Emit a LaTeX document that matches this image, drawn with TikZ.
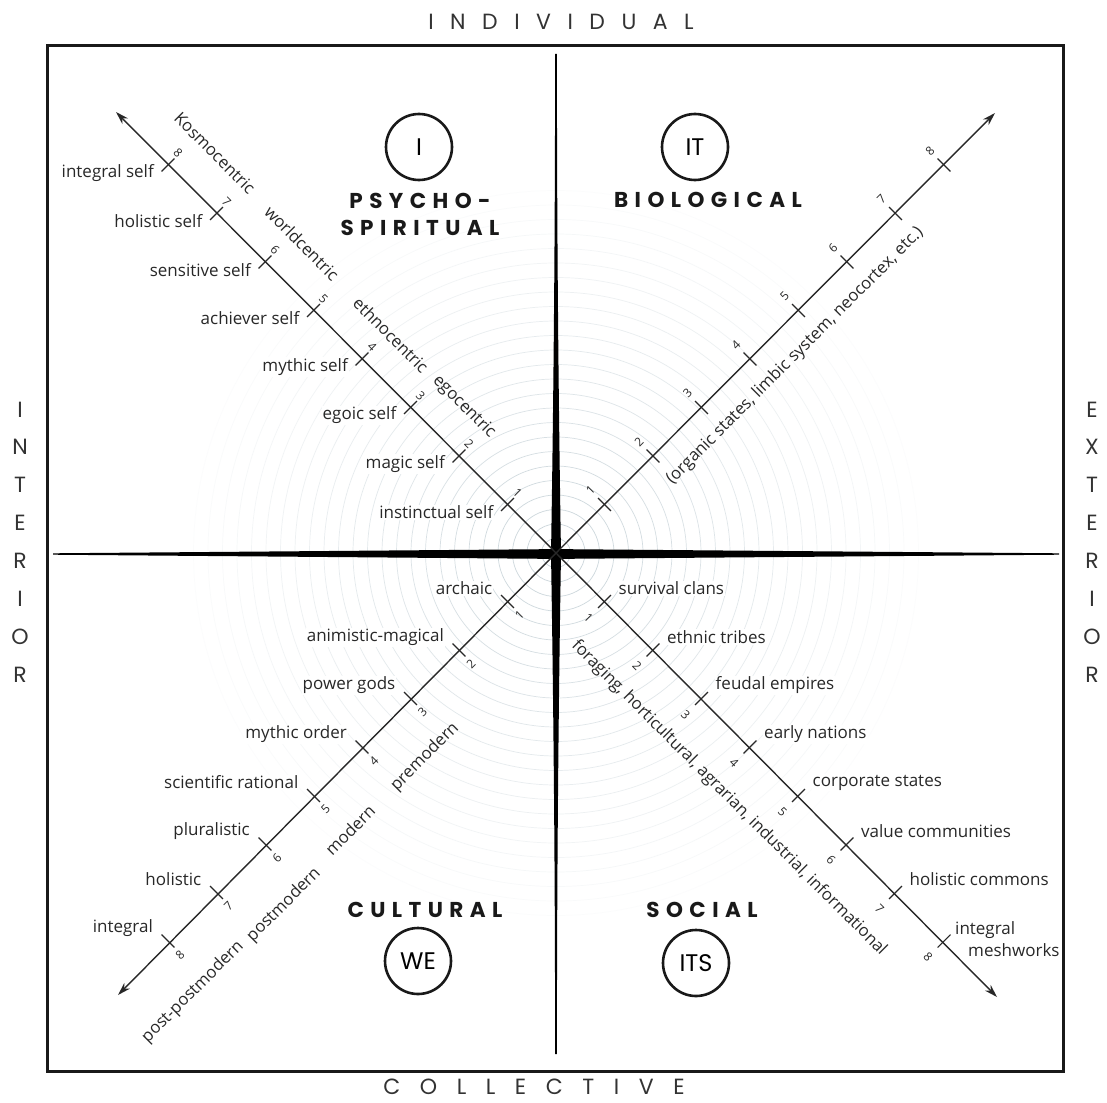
\documentclass[tikz,border=0pt]{standalone}
\usepackage{fontspec}
\setmainfont{Open Sans}
\newfontfamily\popfont{Poppins}
\newfontfamily\ttlfont[LetterSpace=30]{Poppins}
\newfontfamily\outfontA[LetterSpace=75]{Poppins}
\newfontfamily\outfontB[LetterSpace=89]{Poppins}
\usetikzlibrary{arrows.meta}
\definecolor{ringc}{RGB}{196,208,214}
\definecolor{ink}{RGB}{40,40,40}
\begin{document}
\begin{tikzpicture}[x=1pt,y=-1pt,
  lbl/.style={font=\fontsize{17}{20}\selectfont, text=ink, inner sep=1pt, fill=white},
  num/.style={font=\fontsize{12}{14}\selectfont, text=ink, inner sep=0pt},
  grp/.style={font=\fontsize{16.7}{19}\selectfont, text=ink, inner sep=0pt},
  circ/.style={circle, draw=black!90, line width=2.6pt, minimum size=66pt, inner sep=0pt, font=\popfont\fontsize{24}{28}\selectfont},
  ttl/.style={font=\ttlfont\bfseries\fontsize{21.5}{27}\selectfont, align=center, inner sep=0pt, text=black!90},
  vert/.style={font=\popfont\fontsize{22}{37.9}\selectfont, align=center, inner sep=0pt, text=black!80},
  axisln/.style={line width=1.4pt, draw=ink, -{Stealth[length=13pt,width=8pt]}},
  tickln/.style={line width=1.1pt, draw=ink},
]
\useasboundingbox[fill=white] (0,0) rectangle (1107,1102);

\coordinate (O) at (556,553);
\coordinate (ULe) at (116,112);
\coordinate (URe) at (995,113);
\coordinate (LLe) at (118,995);
\coordinate (LRe) at (997,997);

% faint concentric rings
\foreach \r [evaluate=\r as \op using {0.95-\r*0.036}] in {1,...,25}
  \draw[ringc, line width=0.7pt, opacity=\op] (O) circle ({\r*14.5});

% tapered cross
\fill[black] plot[domain=-503:503,samples=81] ({556+(\x)},{554-(0.7+4.2*(1-abs(\x)/503))})
  -- plot[domain=503:-503,samples=81] ({556+(\x)},{554+(0.7+4.2*(1-abs(\x)/503))}) -- cycle;
\fill[black] plot[domain=-500:500,samples=101] ({556-(0.9+4.1*(1-abs(\x)/500)*(1-abs(\x)/500))},{554+(\x)})
  -- plot[domain=500:-500,samples=101] ({556+(0.9+4.1*(1-abs(\x)/500)*(1-abs(\x)/500))},{554+(\x)}) -- cycle;

% frame
\draw[line width=3pt, black!90] (47,46) rectangle (1063,1071);

% outer labels
\node[inner sep=0pt, text=black!80, font=\outfontA\fontsize{22}{26}\selectfont] (tIndiv) at (561,22) {INDIVIDUAL};
\node[inner sep=0pt, text=black!80, font=\outfontB\fontsize{22}{26}\selectfont] (tColl) at (534,1087) {COLLECTIVE};
\node[vert] (tInt) at (20,542) {I\\N\\T\\E\\R\\I\\O\\R};
\node[vert] (tExt) at (1092,542) {E\\X\\T\\E\\R\\I\\O\\R};

% quadrant circles and titles
\node[circ] (cI) at (419,147) {I};
\node[circ] (cIT) at (695,147) {IT};
\node[circ] (cWE) at (418,961) {WE};
\node[circ] (cITS) at (696,963) {ITS};
\node[ttl] (tPsy) at (420,214) {PSYCHO-\\SPIRITUAL};
\node[ttl] (tBio) at (708,200) {BIOLOGICAL};
\node[ttl] (tCul) at (425,910) {CULTURAL};
\node[ttl] (tSoc) at (702,910) {SOCIAL};

% upper-left labels
\foreach \k/\t in {1/instinctual self,2/magic self,3/egoic self,4/mythic self,5/achiever self,6/sensitive self,7/holistic self,8/integral self}{
  \pgfmathsetmacro\px{556-48.5*\k}\pgfmathsetmacro\py{553-48.5*\k}
  \node[lbl, anchor=east] (ul\k) at ({\px-13},{\py+8}) {\t};
  \node[num, rotate=-45] (uln\k) at ({\px+10},{\py-12}) {\k};
}
% upper-right numbers
\foreach \k in {1,...,8}{
  \pgfmathsetmacro\px{556+48.5*\k}\pgfmathsetmacro\py{553-48.5*\k}
  \node[num, rotate=45] (urn\k) at ({\px-14},{\py-14}) {\k};
}
% lower-left labels
\foreach \k/\t in {1/archaic,2/animistic-magical,3/power gods,4/mythic order,5/scientific rational,6/pluralistic,7/holistic,8/integral}{
  \pgfmathsetmacro\px{556-48.5*\k}\pgfmathsetmacro\py{553+48.5*\k}
  \node[lbl, anchor=east] (ll\k) at ({\px-14},{\py-13}) {\t};
  \node[num, rotate=45] (lln\k) at ({\px+12},{\py+14}) {\k};
}
% lower-right labels
\foreach \k/\t in {1/survival clans,2/ethnic tribes,3/feudal empires,4/early nations,5/corporate states,6/value communities,7/holistic commons}{
  \pgfmathsetmacro\px{556+48.5*\k}\pgfmathsetmacro\py{553+48.5*\k}
  \node[lbl, anchor=west] (lr\k) at ({\px+13},{\py-13}) {\t};
}
\foreach \k in {1,...,8}{
  \pgfmathsetmacro\px{556+48.5*\k}\pgfmathsetmacro\py{553+48.5*\k}
  \node[num, rotate=-45] (lrn\k) at ({\px-16},{\py+16}) {\k};
}
\node[lbl, anchor=west, align=left, fill=none, font=\fontsize{17}{22}\selectfont] (lr8) at (954,939) {integral\\\hspace*{13pt}meshworks};

% group labels along axes
\node[grp, rotate=-45] (gKos) at (215,153) {Kosmocentric};
\node[grp, rotate=-45] (gWor) at (302,243) {worldcentric};
\node[grp, rotate=-45] (gEth) at (391,335) {ethnocentric};
\node[grp, rotate=-45] (gEgo) at (464,407) {egocentric};
\node[grp, rotate=45] (gOrg) at (795,356) {(organic states, limbic system, neocortex, etc.)};
\node[grp, rotate=45] (gPre) at (425,757) {premodern};
\node[grp, rotate=45] (gMod) at (350,830) {modern};
\node[grp, rotate=45] (gPost) at (284,905) {postmodern};
\node[grp, rotate=45] (gPP) at (193,992) {post-postmodern};
\node[grp, rotate=-45] (gFor) at (729,798) {foraging, horticultural, agrarian, industrial, informational};

% diagonal axes
\draw[axisln] (O) -- (ULe);
\draw[axisln] (O) -- (URe);
\draw[axisln] (O) -- (LLe);
\draw[axisln] (O) -- (LRe);

% ticks
\foreach \k in {1,...,8}{
  \pgfmathsetmacro\a{48.5*\k}
  \draw[tickln] ({556-\a-6.4},{553-\a+6.4}) -- ({556-\a+6.4},{553-\a-6.4});
  \draw[tickln] ({556+\a-6.4},{553-\a-6.4}) -- ({556+\a+6.4},{553-\a+6.4});
  \draw[tickln] ({556-\a-6.4},{553+\a-6.4}) -- ({556-\a+6.4},{553+\a+6.4});
  \draw[tickln] ({556+\a-6.4},{553+\a+6.4}) -- ({556+\a+6.4},{553+\a-6.4});
}
\end{tikzpicture}
\end{document}
